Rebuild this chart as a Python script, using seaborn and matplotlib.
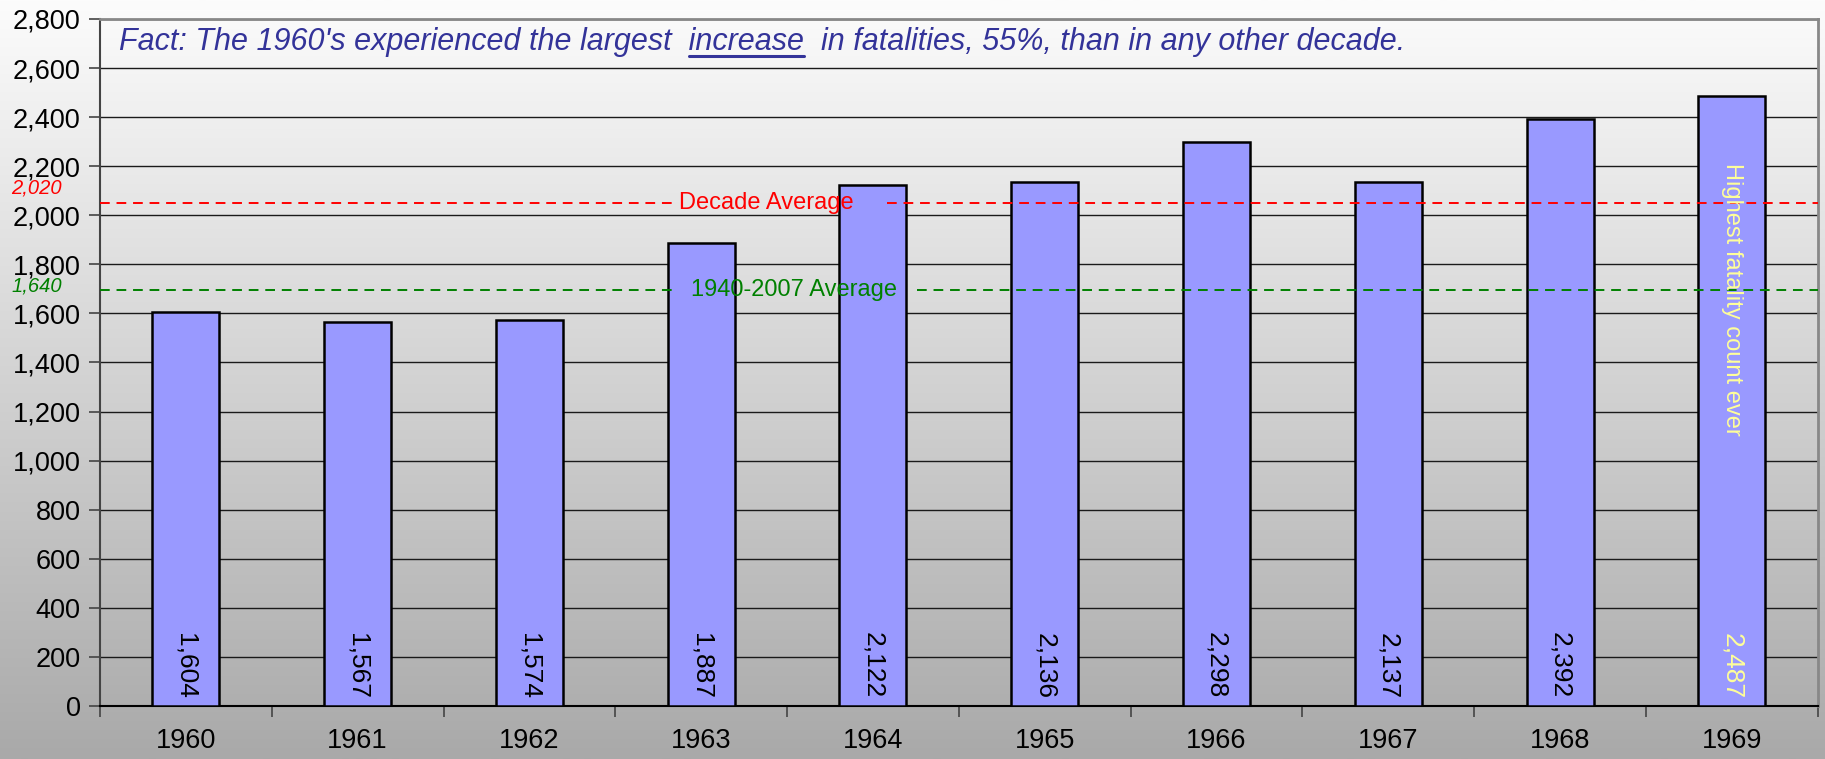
import numpy as np
import pandas as pd
import seaborn as sns
import matplotlib.pyplot as plt
from matplotlib.colors import LinearSegmentedColormap
from matplotlib.lines import Line2D
from matplotlib.ticker import FuncFormatter, MultipleLocator

years = ["1960", "1961", "1962", "1963", "1964", "1965", "1966", "1967", "1968", "1969"]
fatalities = [1604, 1567, 1574, 1887, 2122, 2136, 2298, 2137, 2392, 2487]
decade_avg = 2048
longterm_avg = 1696
decade_label = "2,020"
longterm_label = "1,640"
title_pre = "Fact: The 1960's experienced the largest  "
title_word = "increase"
title_post = "  in fatalities, 55%, than in any other decade."

df = pd.DataFrame({"year": years, "fatalities": fatalities})

sns.set_theme(style="white")
plt.rcParams["font.family"] = ["Liberation Sans", "DejaVu Sans"]

fig = plt.figure(figsize=(18.25, 7.59), dpi=100)

# gradient background over the whole figure
bg = fig.add_axes([0, 0, 1, 1], zorder=-10)
grad = LinearSegmentedColormap.from_list("bg", ["#fcfcfc", "#a9a9a9"])
bg.imshow(np.linspace(0, 1, 256).reshape(-1, 1), aspect="auto", cmap=grad,
          extent=[0, 1, 0, 1])
bg.axis("off")

ax = fig.add_axes([0.0548, 0.0698, 0.9412, 0.9052])
ax.patch.set_alpha(0)

sns.barplot(data=df, x="year", y="fatalities", color="#9999ff", width=0.39,
            edgecolor="black", linewidth=1.8, saturation=1, ax=ax, zorder=3)

ax.set_ylim(0, 2800)
ax.set_xlim(-0.5, len(years) - 0.5)
ax.yaxis.set_major_locator(MultipleLocator(200))
ax.yaxis.set_major_formatter(FuncFormatter(lambda v, p: f"{int(v):,}"))
ax.grid(axis="y", color="#1a1a1a", linewidth=1, zorder=0)
ax.set_axisbelow(True)
ax.set_xlabel("")
ax.set_ylabel("")

ax.tick_params(axis="y", labelsize=19.5, length=8, width=1.2, color="#444444",
               left=True, pad=6, labelcolor="black")
ax.tick_params(axis="x", which="major", labelsize=19.5, length=0, pad=16,
               labelcolor="black")
ax.set_xticks(np.arange(-0.5, len(years), 1), minor=True)
ax.tick_params(axis="x", which="minor", length=8, width=1.2, color="#444444",
               bottom=True)

ax.spines["left"].set_color("#444444")
ax.spines["left"].set_linewidth(1.5)
ax.spines["bottom"].set_color("black")
ax.spines["bottom"].set_linewidth(1.5)
for side in ["top", "right"]:
    ax.spines[side].set_color("#888888")
    ax.spines[side].set_linewidth(2)

# average lines with gaps for the labels
dash = (0, (5, 3.5))
ax.hlines(decade_avg, -0.5, 2.855, colors="red", linestyles=dash,
          linewidth=1.4, zorder=4)
ax.hlines(decade_avg, 4.08, 9.5, colors="red", linestyles=dash,
          linewidth=1.4, zorder=4)
ax.text(3.38, decade_avg, "Decade Average", color="red", fontsize=17,
        ha="center", va="center", zorder=5)
ax.hlines(longterm_avg, -0.5, 2.855, colors="green", linestyles=dash,
          linewidth=1.4, zorder=4)
ax.hlines(longterm_avg, 4.256, 9.5, colors="green", linestyles=dash,
          linewidth=1.4, zorder=4)
ax.text(3.54, longterm_avg, "1940-2007 Average", color="green", fontsize=17,
        ha="center", va="center", zorder=5)

ax.text(-0.022, 2110, decade_label, color="red", fontsize=14.5, style="italic",
        ha="right", va="center", transform=ax.get_yaxis_transform())
ax.text(-0.022, 1711, longterm_label, color="green", fontsize=14.5,
        style="italic", ha="right", va="center",
        transform=ax.get_yaxis_transform())

# value labels inside bars
for i, v in enumerate(fatalities):
    col = "#ffff99" if i == len(fatalities) - 1 else "black"
    ax.text(i, 30, f"{v:,}", rotation=-90, ha="center", va="bottom",
            fontsize=19, color=col, zorder=5)
ax.text(len(years) - 1, 2215, "Highest fatality count ever", rotation=-90,
        ha="center", va="top", fontsize=17, color="#ffff99", zorder=5)

# title with underlined word
tprops = dict(fontsize=22, style="italic", color="#333399", transform=ax.transAxes,
              ha="left", va="baseline", zorder=6)
tx, ty = 0.011, 0.955
ax.text(tx, ty, title_pre + title_word + title_post, **tprops)
fig.canvas.draw()
r = fig.canvas.get_renderer()
m1 = ax.text(tx, ty, title_pre + title_word, alpha=0, **tprops)
m2 = ax.text(tx, ty, title_word, alpha=0, **tprops)
b1 = m1.get_window_extent(r)
b2 = m2.get_window_extent(r)
x_end = b1.x1
x_start = b1.x1 - b2.width
base = ax.transAxes.transform((tx, ty))[1] - 6
inv = fig.transFigure.inverted()
(fx0, fy), (fx1, _) = inv.transform([(x_start, base), (x_end, base)])
fig.add_artist(Line2D([fx0, fx1], [fy, fy], color="#333399", linewidth=2.2,
                      transform=fig.transFigure))

fig.savefig("out.png", dpi=100)
